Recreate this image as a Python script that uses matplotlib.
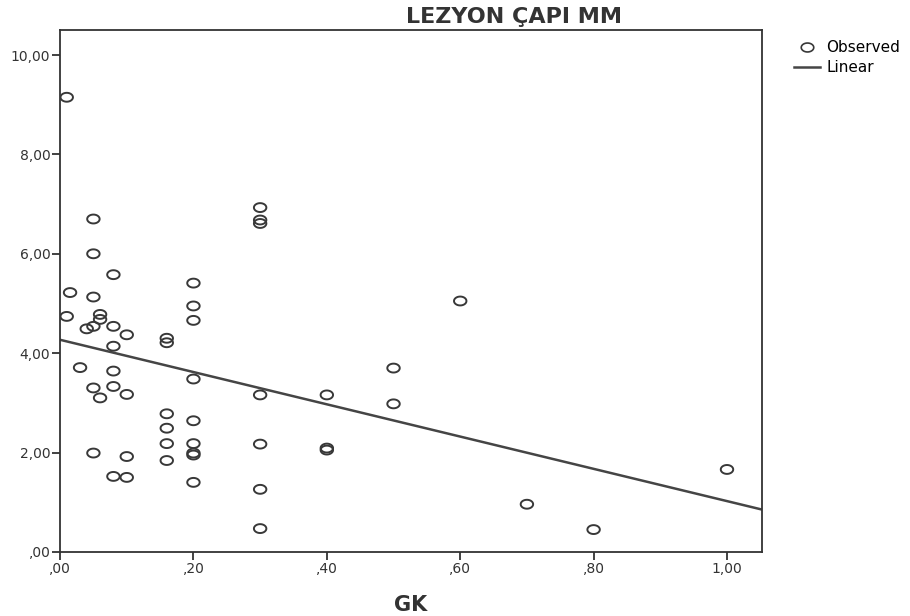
import matplotlib
matplotlib.use("Agg")
import matplotlib.pyplot as plt
from matplotlib.ticker import FuncFormatter, MultipleLocator
from matplotlib.lines import Line2D
from matplotlib.path import Path
import numpy as np

# data
gk = [0.01, 0.05, 0.05, 0.08, 0.015, 0.05, 0.01, 0.06, 0.06, 0.04, 0.05, 0.08, 0.10, 0.08,
      0.20, 0.20, 0.20, 0.16, 0.16,
      0.03, 0.08, 0.05, 0.08, 0.06, 0.10,
      0.20, 0.16, 0.20, 0.16, 0.16, 0.20, 0.20, 0.20, 0.16,
      0.05, 0.10, 0.08, 0.10, 0.20,
      0.30, 0.30, 0.30,
      0.30, 0.40, 0.50, 0.50, 0.30, 0.40, 0.40, 0.30, 0.30,
      0.60, 1.00, 0.70, 0.80]
lezyon = [9.15, 6.70, 6.00, 5.58, 5.22, 5.13, 4.74, 4.78, 4.68, 4.49, 4.54, 4.54, 4.37, 4.14,
          5.41, 4.95, 4.66, 4.30, 4.21,
          3.71, 3.64, 3.30, 3.33, 3.10, 3.17,
          3.48, 2.78, 2.64, 2.49, 2.18, 2.18, 1.99, 1.95, 1.84,
          1.99, 1.92, 1.52, 1.50, 1.40,
          6.93, 6.68, 6.61,
          3.16, 3.16, 3.70, 2.98, 2.17, 2.09, 2.05, 1.26, 0.47,
          5.05, 1.66, 0.96, 0.45]

plt.rcParams['font.family'] = ['DejaVu Sans']

# the scanned markers are squashed circles
t = np.linspace(0, 2 * np.pi, 65)
oval = Path(np.column_stack([np.cos(t), np.sin(t) / 1.4]), closed=True)

fig = plt.figure(figsize=(9.1, 6.16), dpi=100)
ax = fig.add_axes([0.066, 0.104, 0.771, 0.847])

dark = '#383838'
ax.scatter(gk, lezyon, s=80, marker=oval, facecolors='none', edgecolors=dark,
           linewidths=1.4, zorder=3)

xmax = 1.052
slope, icpt = np.polyfit(gk, lezyon, 1)
xs = np.array([0.0, xmax])
ax.plot(xs, icpt + slope * xs, color='#454545', lw=1.8, zorder=2)

ax.set_xlim(0, xmax)
ax.set_ylim(0, 10.5)
ax.xaxis.set_major_locator(MultipleLocator(0.2))
ax.yaxis.set_major_locator(MultipleLocator(2))


def comma(v, pos):
    s = f"{v:.2f}".replace('.', ',')
    if s.startswith('0,'):
        s = s[1:]
    return s


ax.xaxis.set_major_formatter(FuncFormatter(comma))
ax.yaxis.set_major_formatter(FuncFormatter(comma))
ax.tick_params(direction='out', length=6, width=1.3, colors='#333333', labelsize=10, pad=1)
ax.tick_params(top=False, right=False)
for sp in ax.spines.values():
    sp.set_color('#333333')
    sp.set_linewidth(1.3)

ax.set_xlabel('GK', fontsize=15, fontweight='bold', color='#333333', labelpad=14)
fig.text(0.565, 0.972, 'LEZYON ÇAPI MM', ha='center', va='center', fontsize=16,
         fontweight='bold', color='#333333')

handles = [Line2D([], [], marker=oval, ls='none', mfc='none', mec=dark, ms=9, mew=1.2),
           Line2D([], [], color='#454545', lw=1.8)]
fig.legend(handles, ['Observed', 'Linear'], loc='upper left', bbox_to_anchor=(0.866, 0.945),
           frameon=False, fontsize=11, handlelength=1.7, handletextpad=0.4,
           labelspacing=0.35, borderaxespad=0)

fig.savefig('out.png', dpi=100)
